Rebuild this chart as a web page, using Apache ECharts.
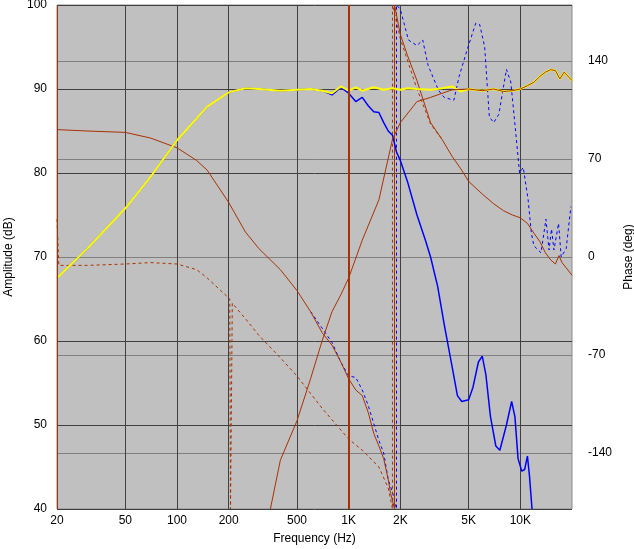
<!DOCTYPE html>
<html>
<head>
<meta charset="utf-8">
<script src="https://cdn.jsdelivr.net/npm/echarts@6/dist/echarts.min.js"></script>
<style>body{margin:0;background:#fff}#main{width:634px;height:549px}</style>
</head>
<body>
<div id="main"></div>
<script>
// 频率刻度
var freqTicks = [20, 50, 100, 200, 500, 1000, 2000, 5000, 10000];
var phaseTicks = [-140, -70, 0, 70, 140];

// 总幅度 (黄) dB
var sumF = [20, 30, 50, 70, 100, 150, 200, 250, 300, 400, 500, 600, 700, 800, 900, 1000, 1100, 1200, 1400, 1600, 1800, 2000, 2200, 2500, 3000, 3500, 4000, 4500, 5000, 6000, 7000, 8000, 9000, 10000, 11000, 12000, 13000, 14000, 15000, 16000, 17000, 18000, 20000];
var sumV = [67.5, 71, 75.8, 79.5, 83.9, 87.9, 89.6, 90.1, 90, 89.8, 89.9, 90, 89.8, 89.5, 90.3, 89.8, 90.2, 89.8, 90.2, 89.9, 90.1, 89.9, 90.1, 90, 89.9, 90.1, 90.3, 89.7, 90, 89.8, 90, 89.7, 89.8, 90, 90.4, 90.8, 91.5, 92, 92.3, 92.2, 91.2, 92, 91];

// 低音幅度 (蓝实线) dB
var blueF = [20, 30, 50, 70, 100, 150, 200, 250, 300, 400, 500, 600, 700, 800, 900, 1000, 1100, 1200, 1300, 1400, 1500, 1600, 1700, 1800, 1900, 2000, 2200, 2500, 2800, 3000, 3300, 3600, 4000, 4300, 4560, 5000, 5300, 5700, 6000, 6300, 6700, 7200, 7600, 8300, 8900, 9300, 9700, 10200, 10600, 11000, 11300, 11700];
var blueV = [67.5, 71, 75.8, 79.5, 83.9, 87.9, 89.6, 90.1, 90, 89.8, 89.9, 90, 89.8, 89.3, 90.2, 89.5, 88.5, 89, 88, 87.3, 87.2, 86, 85, 84.5, 82.5, 81.5, 79, 75, 72, 70, 66.5, 62, 57, 53.5, 52.8, 53, 54.5, 57.5, 58.2, 56, 51, 47.5, 47, 50, 52.8, 51, 46, 44.5, 44.7, 46.3, 44, 40];

// 高音幅度 (棕实线) dB
var tweF = [350, 400, 500, 600, 700, 800, 900, 1000, 1200, 1500, 1800, 2000, 2500, 3000, 4000, 5000, 6000, 7000, 8000, 9000, 10000, 11000, 12000, 13000, 14000, 15000, 16000, 17000, 18000, 20000];
var tweV = [40, 45.8, 50.5, 55.5, 60, 63.5, 65.5, 67.5, 72, 76.8, 84, 86, 88.5, 89, 89.9, 90, 89.8, 90, 89.7, 89.8, 90, 90.4, 90.8, 91.5, 92, 92.3, 92.2, 91.2, 92, 91];

// 相位 (棕实线) deg
var phA_F = [20, 30, 50, 70, 100, 130, 150, 200, 250, 300, 400, 500, 600, 700, 800, 900, 1000, 1100, 1200, 1300, 1400, 1500, 1600, 1700, 1750, 1850, 1850, 2000, 2200, 2500, 3000, 3500, 4000, 4500, 5000, 6000, 7000, 8000, 9000, 10000, 11000, 12000, 13000, 14000, 15000, 16000, 16800, 17500, 20000];
var phA_V = [91, 90, 89, 85, 78, 69, 62, 39, 18, 6, -9, -24, -39, -54, -63, -75, -87, -95, -99, -111, -126, -135, -144, -159, -168, -180, 180, 159, 144, 126, 96, 84, 72, 63, 54, 45, 38, 33, 30, 28, 24, 17, 11, 3, -2, -5, 1, -4, -13];

// 相位 (棕虚线) deg
var phB_F = [20, 20.5, 30, 50, 70, 100, 130, 150, 180, 203, 205, 207, 210, 250, 300, 400, 500, 700, 1000, 1200, 1500, 1700, 1800, 1800, 1850, 2000, 2500, 3000, 3500];
var phB_V = [27, -6, -6, -5, -4, -5, -9, -15, -24, -30, -180, -180, -33, -44, -56, -72, -85, -108, -130, -138, -150, -165, -180, 180, 174, 156, 120, 95, 84];

// 相位 (蓝虚线) deg
var phC_F = [600, 800, 900, 1000, 1100, 1200, 1300, 1500, 1600, 1700, 1800, 1900, 1900, 2000, 2230, 2500, 2700, 2900, 3340, 3600, 4100, 4400, 4900, 5500, 5800, 6200, 6600, 7000, 7500, 8300, 8800, 9300, 9900, 10400, 11100, 11600, 12000, 13200, 14100, 14700, 15200, 15700, 16700, 17300, 18500, 19700];
var phC_V = [-39, -61, -75, -85, -86, -95, -106, -131, -140, -159, -168, -180, 180, 177, 155, 151, 155, 137, 119, 114, 112, 129, 148, 167, 166, 150, 100, 96, 102, 134, 125, 95, 60, 64, 41, 17, 8, 3, 27, 5, 20, 5, 24, 0, 6, 36];

function pairs(f, v) {
    return f.map(function (x, i) { return [x, v[i]]; });
}

var brown = '#a83200';
var font = 'Liberation Sans, DejaVu Sans, sans-serif';

var myChart = echarts.init(document.getElementById('main'));
var option = {
    backgroundColor: '#fff',
    animation: false,
    textStyle: { fontFamily: font, color: '#000' },
    grid: { left: 57, right: 62, top: 5, bottom: 40, containLabel: false, outerBoundsMode: 'none',
            show: true, backgroundColor: '#c0c0c0', borderColor: '#8a8a8a', borderWidth: 1 },
    xAxis: {
        type: 'log', min: 20, max: 20000,
        name: 'Frequency (Hz)', nameLocation: 'middle', nameGap: 24,
        nameTextStyle: { fontSize: 12, color: '#000' },
        axisLine: { show: false },
        axisTick: { show: false, customValues: freqTicks },
        axisLabel: {
            customValues: freqTicks, fontSize: 12, color: '#000', margin: 6,
            formatter: function (v) { return v >= 1000 ? (v / 1000) + 'K' : v; }
        },
        splitLine: { show: true, lineStyle: { color: '#404040', width: 1 } },
        minorSplitLine: { show: false }
    },
    yAxis: [{
        type: 'value', min: 40, max: 100, interval: 10,
        name: 'Amplitude (dB)', nameLocation: 'middle', nameGap: 42,
        nameTextStyle: { fontSize: 12, color: '#000' },
        axisLine: { show: false }, axisTick: { show: false },
        axisLabel: { fontSize: 12, color: '#000', margin: 10 },
        splitLine: { lineStyle: { color: '#404040', width: 1 } }
    }, {
        type: 'value', min: -180, max: 180, position: 'right',
        name: 'Phase (deg)', nameLocation: 'middle', nameGap: 46, nameRotate: 90,
        nameTextStyle: { fontSize: 12, color: '#000' },
        axisLine: { show: false },
        axisTick: { show: false, customValues: phaseTicks },
        axisLabel: { customValues: phaseTicks, fontSize: 12, color: '#000', margin: 16 },
        splitLine: { show: true, lineStyle: { color: '#808080', width: 1 } }
    }],
    series: [
        { name: 'phaseC', type: 'line', yAxisIndex: 1, showSymbol: false, data: pairs(phC_F, phC_V), lineStyle: { color: '#0000ff', width: 1, type: [3, 3] } },
        { name: 'phaseB', type: 'line', yAxisIndex: 1, showSymbol: false, data: pairs(phB_F, phB_V), lineStyle: { color: brown, width: 1, type: [3, 3] } },
        { name: 'phaseA', type: 'line', yAxisIndex: 1, showSymbol: false, data: pairs(phA_F, phA_V), lineStyle: { color: brown, width: 1 },
          markLine: { silent: true, symbol: 'none', label: { show: false }, lineStyle: { color: brown, type: 'solid', width: 2 },
                      data: [{ xAxis: 1000 }, { xAxis: 20, lineStyle: { width: 1 } }] } },
        { name: 'woofer', type: 'line', showSymbol: false, data: pairs(blueF, blueV), lineStyle: { color: '#0000ff', width: 1.5 } },
        { name: 'sum', type: 'line', showSymbol: false, data: pairs(sumF, sumV), lineStyle: { color: '#ffff00', width: 2 } },
        { name: 'tweeter', type: 'line', showSymbol: false, data: pairs(tweF, tweV), lineStyle: { color: brown, width: 1 } }
    ]
};
myChart.setOption(option);
</script>
</body>
</html>
